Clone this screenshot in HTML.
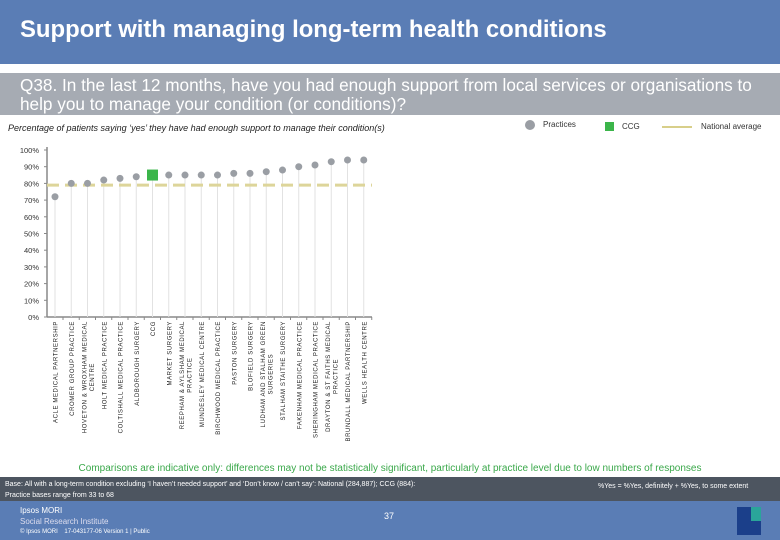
<!DOCTYPE html>
<html><head><meta charset="utf-8"><style>
body{margin:0;width:780px;height:540px;overflow:hidden;background:#fff;font-family:"Liberation Sans",sans-serif;position:relative}
.abs{position:absolute}
</style></head><body>
<div class="abs" style="left:0;top:0;width:780px;height:64px;background:#5a7db5"></div>
<div class="abs" style="left:20px;top:16px;color:#fff;font-size:23.9px;font-weight:bold">Support with managing long-term health conditions</div>
<div class="abs" style="left:0;top:73px;width:780px;height:42px;background:#a6abb3"></div>
<div class="abs" style="left:20px;top:76px;width:760px;color:#fff;font-size:17.2px;line-height:19px;white-space:nowrap">Q38. In the last 12 months, have you had enough support from local services or organisations to<br>help you to manage your condition (or conditions)?</div>
<div class="abs" style="left:8px;top:123px;font-size:9px;font-style:italic;color:#222">Percentage of patients saying ‘yes’ they have had enough support to manage their condition(s)</div>
<div class="abs" style="left:525px;top:120px;font-size:8px;color:#333"><span style="display:inline-block;width:10px;height:10px;border-radius:50%;background:#9a9ea4;vertical-align:middle;margin-right:8px"></span>Practices</div>
<div class="abs" style="left:605px;top:122px;font-size:8px;color:#333"><span style="display:inline-block;width:9px;height:9px;background:#3bb54a;vertical-align:middle;margin-right:8px"></span>CCG</div>
<div class="abs" style="left:662px;top:122px;font-size:8px;color:#333"><span style="display:inline-block;width:30px;height:2px;background:#d8cf8a;vertical-align:middle;margin-right:9px"></span>National average</div>
<svg class="abs" style="left:0;top:0" width="780" height="460" id="chart"></svg>
<div class="abs" style="left:0;top:463px;width:780px;text-align:center;font-size:10px;color:#3aa84a">Comparisons are indicative only: differences may not be statistically significant, particularly at practice level due to low numbers of responses</div>
<div class="abs" style="left:0;top:477px;width:780px;height:24px;background:#4d5560"></div>
<div class="abs" style="left:5px;top:479px;font-size:7px;line-height:11px;color:#fff">Base: All with a long-term condition excluding ‘I haven’t needed support’ and ‘Don’t know / can’t say’: National (284,887); CCG (884):<br>Practice bases range from 33 to 68</div>
<div class="abs" style="left:598px;top:483px;font-size:7px;color:#fff">%Yes = %Yes, definitely + %Yes, to some extent</div>
<div class="abs" style="left:0;top:501px;width:780px;height:39px;background:#5a7db5"></div>
<div class="abs" style="left:20px;top:505px;font-size:8px;line-height:11px;color:#fff">Ipsos MORI<br><span style="color:#dde">Social Research Institute</span></div>
<div class="abs" style="left:20px;top:529px;font-size:6px;color:#fff">© Ipsos MORI &nbsp;&nbsp; 17-043177-06 Version 1 | Public</div>
<div class="abs" style="left:384px;top:511px;font-size:9px;color:#fff">37</div>
<div class="abs" style="left:737px;top:507px;width:24px;height:28px;background:#1b3f8a"><div style="position:absolute;right:0;top:0;width:10px;height:14px;background:#2aa59a"></div></div>
<script>
const categories=["ACLE MEDICAL PARTNERSHIP","CROMER GROUP PRACTICE","HOVETON & WROXHAM MEDICAL|CENTRE","HOLT MEDICAL PRACTICE","COLTISHALL MEDICAL PRACTICE","ALDBOROUGH SURGERY","CCG","MARKET SURGERY","REEPHAM & AYLSHAM MEDICAL|PRACTICE","MUNDESLEY MEDICAL CENTRE","BIRCHWOOD MEDICAL PRACTICE","PASTON SURGERY","BLOFIELD SURGERY","LUDHAM AND STALHAM GREEN|SURGERIES","STALHAM STAITHE SURGERY","FAKENHAM MEDICAL PRACTICE","SHERINGHAM MEDICAL PRACTICE","DRAYTON & ST FAITHS MEDICAL|PRACTICE","BRUNDALL MEDICAL PARTNERSHIP","WELLS HEALTH CENTRE"];
const values=[72,80,80,82,83,84,85,85,85,85,85,86,86,87,88,90,91,93,94,94];
const isCCG=[0,0,0,0,0,0,1,0,0,0,0,0,0,0,0,0,0,0,0,0];
const nationalAverage=79;
const yTicks=[0,10,20,30,40,50,60,70,80,90,100];
const NS="http://www.w3.org/2000/svg",svg=document.getElementById('chart');
const y=v=>317-v*1.67, x=i=>55+i*16.25;
function mk(t,a){const e=document.createElementNS(NS,t);for(const k in a)e.setAttribute(k,a[k]);svg.appendChild(e);return e;}
yTicks.forEach(t=>{
 const l=mk('text',{x:39,y:y(t)+3,'text-anchor':'end','font-size':7.5,fill:'#333'});l.textContent=t+'%';
 
 
 mk('line',{x1:44,x2:47,y1:y(t),y2:y(t),stroke:'#888'});
});
const ax=mk('line',{x1:47,x2:47,y1:y(100)-3,y2:y(0),stroke:'#888','stroke-width':1.5});


const bx=mk('line',{x1:47,x2:372,y1:y(0),y2:y(0),stroke:'#888','stroke-width':1.5});


values.forEach((v,i)=>{
 const cx=x(i);
 mk('line',{x1:cx,x2:cx,y1:y(v),y2:y(0),stroke:'#e2e2e2','stroke-width':1});
 mk('line',{x1:cx+8,x2:cx+8,y1:y(0),y2:y(0)+3,stroke:'#888'});
});
const nl=mk('line',{x1:47,x2:372,y1:y(nationalAverage),y2:y(nationalAverage),stroke:'#ddd59a','stroke-width':3,'stroke-dasharray':'12,6'});


values.forEach((v,i)=>{
 const cx=x(i);let m;
 if(isCCG[i]){m=mk('rect',{x:cx-5.5,y:y(v)-5.5,width:11,height:11,fill:'#3bb54a'});}
 else{m=mk('circle',{cx:cx,cy:y(v),r:3.5,fill:'#9a9ea4'});}
 
 const lines=categories[i].split('|');
 let firstLen=0;
 lines.forEach((s,j)=>{
  const off=(j-(lines.length-1)/2)*7.5;
  const t=mk('text',{transform:`translate(${cx+2.5+off},321) rotate(-90)`,'text-anchor':'end','font-size':6,fill:'#222','letter-spacing':'0.6'});
  t.textContent=s;
  if(j===0){firstLen=t.getComputedTextLength();}
  else{t.setAttribute('text-anchor','middle');t.setAttribute('transform',`translate(${cx+2.5+off},${321+firstLen/2}) rotate(-90)`);}
  
  
 });
});
</script>
</body></html>
